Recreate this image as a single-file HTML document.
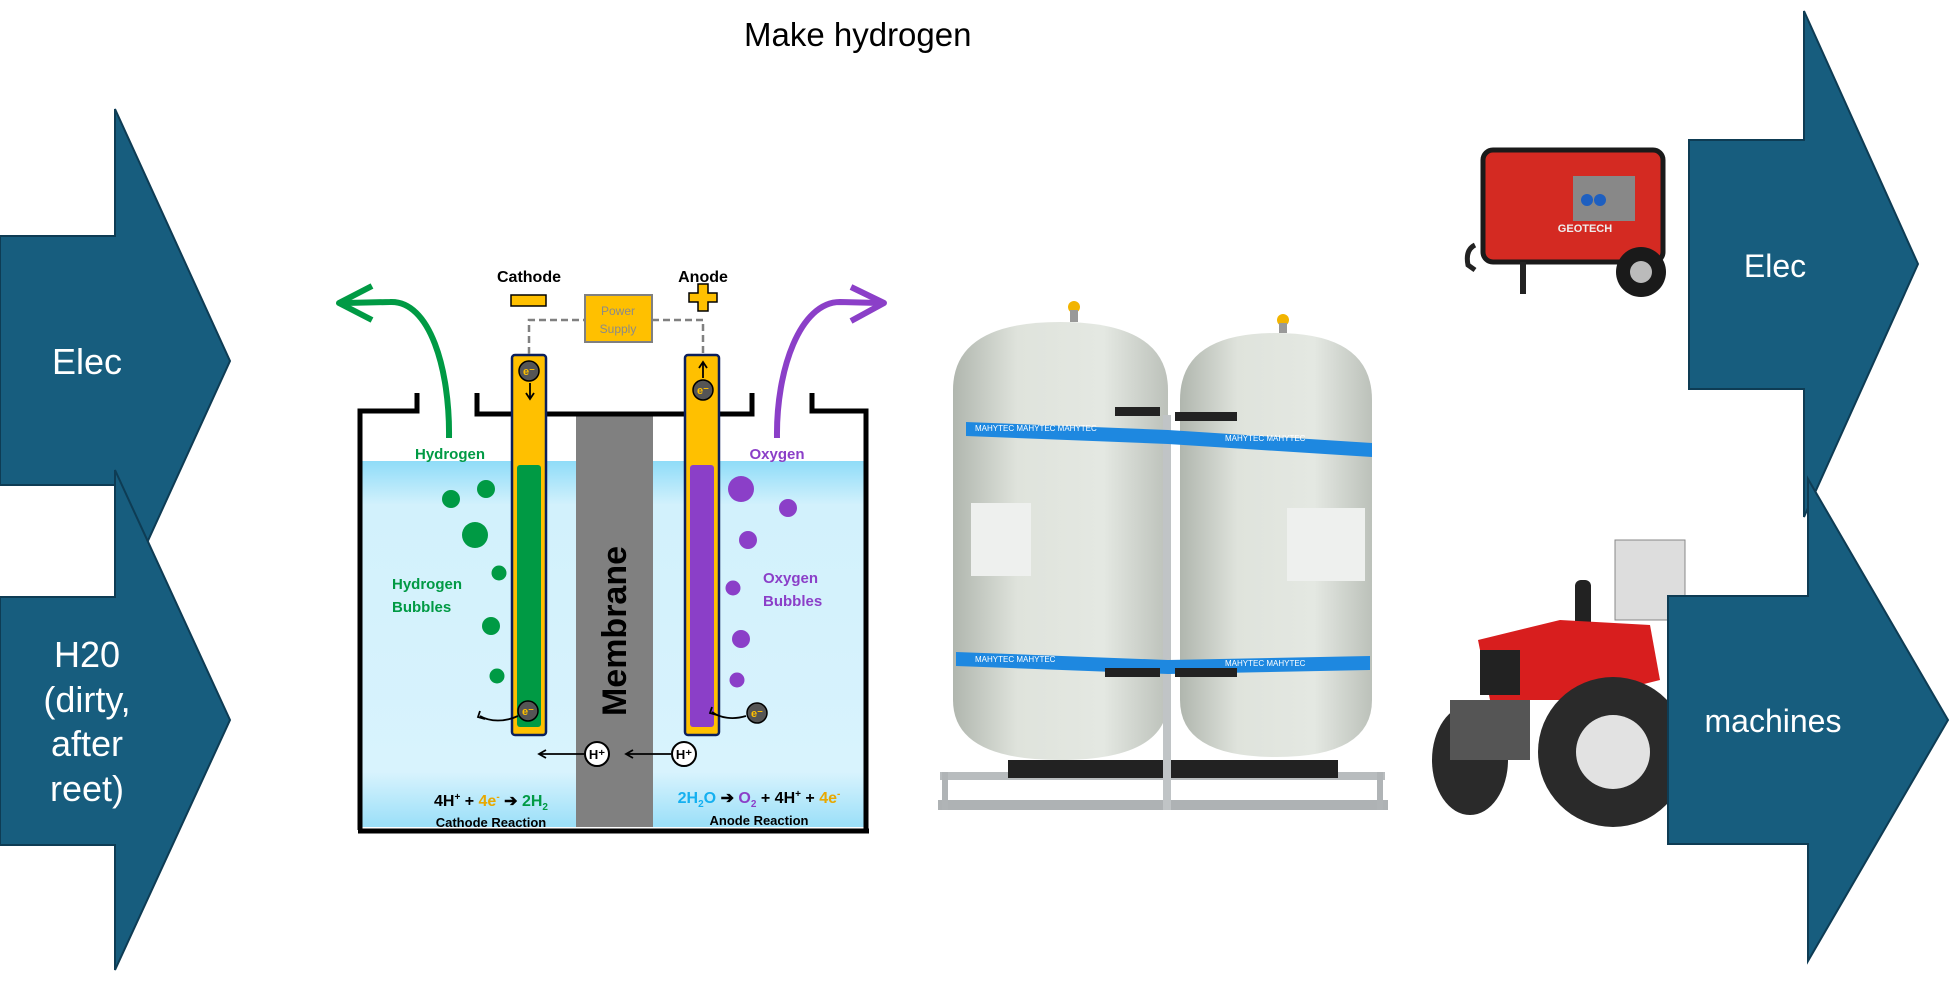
<!DOCTYPE html>
<html><head><meta charset="utf-8"><style>
html,body{margin:0;padding:0;background:#fff;}
svg{display:block;}
text{font-family:"Liberation Sans",sans-serif;}
</style></head><body>
<svg width="1950" height="991" viewBox="0 0 1950 991" xmlns="http://www.w3.org/2000/svg">
<defs>
<linearGradient id="water" x1="0" y1="0" x2="0" y2="1">
<stop offset="0" stop-color="#8fdcf8"/><stop offset="0.12" stop-color="#d2f1fc"/><stop offset="0.85" stop-color="#d8f3fd"/><stop offset="1" stop-color="#9adff8"/>
</linearGradient>
<linearGradient id="tank" x1="0" y1="0" x2="1" y2="0">
<stop offset="0" stop-color="#b0b6ae"/><stop offset="0.3" stop-color="#dfe3dc"/><stop offset="0.7" stop-color="#e4e8e2"/><stop offset="1" stop-color="#bcc1ba"/>
</linearGradient>
</defs>

<text x="744" y="46" font-size="33" fill="#000">Make hydrogen</text>

<polygon points="0,236 115,236 115,109 230,361 115,613 115,485 0,485" fill="#175d7e" stroke="#0e3c54" stroke-width="2"/>
<text x="87" y="374" font-size="36" fill="#fff" text-anchor="middle">Elec</text>
<polygon points="0,597 115,597 115,470 230,720 115,970 115,845 0,845" fill="#175d7e" stroke="#0e3c54" stroke-width="2"/>
<text font-size="36" fill="#fff" text-anchor="middle"><tspan x="87" y="667">H20</tspan><tspan x="87" y="712">(dirty,</tspan><tspan x="87" y="756">after</tspan><tspan x="87" y="801">reet)</tspan></text>

<rect x="361" y="461" width="505" height="366" fill="url(#water)"/>
<rect x="576" y="413" width="77" height="414" fill="#808080"/>
<path d="M360,830 L360,411 L417,411 L417,393" fill="none" stroke="#000" stroke-width="5"/>
<path d="M866,830 L866,411 L812,411 L812,393" fill="none" stroke="#000" stroke-width="5"/>
<line x1="358" y1="831" x2="869" y2="831" stroke="#000" stroke-width="5"/>
<path d="M477,393 L477,414 L684,414" fill="none" stroke="#000" stroke-width="5"/>
<path d="M720,414 L752,414 L752,393" fill="none" stroke="#000" stroke-width="5"/>
<text x="614" y="631" font-size="34" font-weight="bold" fill="#000" text-anchor="middle" transform="rotate(-90 614 631)" dy="12">Membrane</text>

<rect x="512" y="355" width="34" height="380" rx="3" fill="#ffc000" stroke="#0b1f5c" stroke-width="2.5"/>
<rect x="517" y="465" width="24" height="262" rx="3" fill="#009a44"/>
<rect x="685" y="355" width="34" height="380" rx="3" fill="#ffc000" stroke="#0b1f5c" stroke-width="2.5"/>
<rect x="690" y="465" width="24" height="262" rx="3" fill="#8b3fc8"/>

<text x="529" y="282" font-size="16" font-weight="bold" text-anchor="middle">Cathode</text>
<rect x="511" y="295" width="35" height="11" fill="#ffc000" stroke="#000" stroke-width="1.5"/>
<text x="703" y="282" font-size="16" font-weight="bold" text-anchor="middle">Anode</text>
<path d="M698,284 h10 v9 h9 v9 h-9 v9 h-10 v-9 h-9 v-9 h9 z" fill="#ffc000" stroke="#000" stroke-width="1.5"/>
<path d="M529,354 V320 H585 M652,320 H703 V354" fill="none" stroke="#808080" stroke-width="2.5" stroke-dasharray="7,4"/>
<rect x="585" y="295" width="67" height="47" fill="#ffc000" stroke="#808080" stroke-width="2"/>
<text x="618" y="315" font-size="12" fill="#8a8a8a" text-anchor="middle">Power</text>
<text x="618" y="333" font-size="12" fill="#8a8a8a" text-anchor="middle">Supply</text>

<path d="M449,438 C450,370 430,300 390,302 L345,303" fill="none" stroke="#009a44" stroke-width="6"/>
<path d="M372,286 L339,303 L372,320" fill="none" stroke="#009a44" stroke-width="6" stroke-linejoin="round"/>
<path d="M777,438 C776,370 800,302 840,302 L880,303" fill="none" stroke="#8b3fc8" stroke-width="6"/>
<path d="M851,287 L884,303 L851,321" fill="none" stroke="#8b3fc8" stroke-width="6" stroke-linejoin="round"/>

<text x="450" y="459" font-size="15" font-weight="bold" fill="#009a44" text-anchor="middle">Hydrogen</text>
<text x="777" y="459" font-size="15" font-weight="bold" fill="#8b3fc8" text-anchor="middle">Oxygen</text>
<text x="392" y="589" font-size="15" font-weight="bold" fill="#009a44">Hydrogen</text>
<text x="392" y="612" font-size="15" font-weight="bold" fill="#009a44">Bubbles</text>
<text x="763" y="583" font-size="15" font-weight="bold" fill="#8b3fc8">Oxygen</text>
<text x="763" y="606" font-size="15" font-weight="bold" fill="#8b3fc8">Bubbles</text>

<g fill="#009a44">
<circle cx="451" cy="499" r="9"/><circle cx="486" cy="489" r="9"/><circle cx="475" cy="535" r="13"/>
<circle cx="499" cy="573" r="7.5"/><circle cx="491" cy="626" r="9"/><circle cx="497" cy="676" r="7.5"/>
</g>
<g fill="#8b3fc8">
<circle cx="741" cy="489" r="13"/><circle cx="788" cy="508" r="9"/><circle cx="748" cy="540" r="9"/>
<circle cx="733" cy="588" r="7.5"/><circle cx="741" cy="639" r="9"/><circle cx="737" cy="680" r="7.5"/>
</g>

<g font-size="11" font-weight="bold" fill="#ffc000" text-anchor="middle">
<circle cx="529" cy="371" r="10" fill="#555" stroke="#000" stroke-width="1.5"/><text x="529" y="375">e⁻</text>
<circle cx="528" cy="711" r="10" fill="#555" stroke="#000" stroke-width="1.5"/><text x="528" y="715">e⁻</text>
<circle cx="703" cy="390" r="10" fill="#555" stroke="#000" stroke-width="1.5"/><text x="703" y="394">e⁻</text>
<circle cx="757" cy="713" r="10" fill="#555" stroke="#000" stroke-width="1.5"/><text x="757" y="717">e⁻</text>
</g>
<g fill="none" stroke="#000" stroke-width="1.8">
<path d="M530,383 V398 M526,393 L530,399 L534,393"/>
<path d="M703,378 V363 M699,368 L703,362 L707,368"/>
<path d="M518,716 C505,722 490,722 480,716 M480,711 L478,717 L485,719"/>
<path d="M746,716 C733,720 720,718 712,712 M712,707 L710,713 L717,715"/>
<path d="M584,754 H540 M546,750 L539,754 L546,758"/>
<path d="M671,754 H627 M633,750 L626,754 L633,758"/>
</g>
<circle cx="597" cy="754" r="12" fill="#fff" stroke="#000" stroke-width="2"/>
<text x="597" y="759" font-size="13" font-weight="bold" text-anchor="middle">H⁺</text>
<circle cx="684" cy="754" r="12" fill="#fff" stroke="#000" stroke-width="2"/>
<text x="684" y="759" font-size="13" font-weight="bold" text-anchor="middle">H⁺</text>

<text x="491" y="806" font-size="16" font-weight="bold" text-anchor="middle">4H<tspan font-size="10" dy="-6">+</tspan><tspan dy="6"> + </tspan><tspan fill="#e8a800">4e<tspan font-size="10" dy="-6">-</tspan></tspan><tspan dy="6"> ➔ </tspan><tspan fill="#009a44">2H<tspan font-size="10" dy="4">2</tspan></tspan></text>
<text x="491" y="827" font-size="13" font-weight="bold" text-anchor="middle">Cathode Reaction</text>
<text x="759" y="803" font-size="16" font-weight="bold" text-anchor="middle"><tspan fill="#14b0f0">2H<tspan font-size="10" dy="4">2</tspan><tspan dy="-4">O</tspan></tspan> ➔ <tspan fill="#8b3fc8">O<tspan font-size="10" dy="4">2</tspan></tspan><tspan dy="-4"> + 4H</tspan><tspan font-size="10" dy="-6">+</tspan><tspan dy="6"> + </tspan><tspan fill="#e8a800">4e<tspan font-size="10" dy="-6">-</tspan></tspan></text>
<text x="759" y="825" font-size="13" font-weight="bold" text-anchor="middle">Anode Reaction</text>

<g>
<rect x="940" y="772" width="445" height="8" fill="#b8bcbe"/>
<rect x="938" y="800" width="450" height="10" fill="#aeb2b4"/>
<rect x="942" y="772" width="6" height="38" fill="#b0b4b6"/>
<rect x="1377" y="772" width="6" height="38" fill="#b0b4b6"/>
<rect x="1008" y="760" width="330" height="18" fill="#222"/>
<path d="M953,390 Q953,322 1060,322 Q1168,322 1168,390 L1168,700 Q1168,760 1060,760 Q953,760 953,700 Z" fill="url(#tank)"/>
<path d="M1180,400 Q1180,333 1276,333 Q1372,333 1372,400 L1372,700 Q1372,757 1276,757 Q1180,757 1180,700 Z" fill="url(#tank)"/>
<circle cx="1074" cy="307" r="6" fill="#f2b400"/><rect x="1070" y="310" width="8" height="12" fill="#999"/>
<circle cx="1283" cy="320" r="6" fill="#f2b400"/><rect x="1279" y="323" width="8" height="10" fill="#999"/>
<rect x="1163" y="415" width="8" height="395" fill="#c0c4c6"/>
<polygon points="966,422 1168,430 1372,443 1372,457 1168,444 966,436" fill="#1e88e0"/>
<polygon points="956,652 1168,660 1370,656 1370,670 1168,674 956,666" fill="#1e88e0"/>
<rect x="1115" y="407" width="45" height="9" fill="#222"/><rect x="1175" y="412" width="62" height="9" fill="#222"/>
<rect x="1105" y="668" width="55" height="9" fill="#222"/><rect x="1175" y="668" width="62" height="9" fill="#222"/>
<g font-size="8" fill="#fff"><text x="975" y="431">MAHYTEC  MAHYTEC  MAHYTEC</text><text x="1225" y="441">MAHYTEC  MAHYTEC</text>
<text x="975" y="662">MAHYTEC  MAHYTEC</text><text x="1225" y="666">MAHYTEC  MAHYTEC</text></g>
<rect x="971" y="503" width="60" height="73" fill="#eef0ee"/>
<rect x="1287" y="508" width="78" height="73" fill="#eef0ee"/>
</g>

<g>
<path d="M1475,245 Q1465,250 1468,265 L1475,270" fill="none" stroke="#222" stroke-width="5"/>
<rect x="1483" y="150" width="180" height="112" rx="10" fill="#d42a22" stroke="#1a1a1a" stroke-width="5"/>
<rect x="1573" y="176" width="62" height="45" fill="#888"/>
<circle cx="1587" cy="200" r="6" fill="#1e5fc0"/><circle cx="1600" cy="200" r="6" fill="#1e5fc0"/>
<text x="1585" y="232" font-size="11" font-weight="bold" fill="#eee" text-anchor="middle">GEOTECH</text>
<circle cx="1641" cy="272" r="25" fill="#1a1a1a"/><circle cx="1641" cy="272" r="11" fill="#bbb"/>
<rect x="1520" y="262" width="6" height="32" fill="#222"/>
</g>

<g>
<rect x="1615" y="540" width="70" height="80" fill="#ddd" stroke="#888"/>
<rect x="1575" y="580" width="16" height="55" rx="6" fill="#222"/>
<path d="M1478,640 L1560,620 L1650,625 L1660,680 L1580,700 L1490,700 Z" fill="#d81e1e"/>
<rect x="1480" y="650" width="40" height="45" fill="#222"/>
<ellipse cx="1470" cy="760" rx="38" ry="55" fill="#2a2a2a"/>
<circle cx="1613" cy="752" r="75" fill="#2a2a2a"/>
<circle cx="1613" cy="752" r="37" fill="#e2e2e2"/>
<rect x="1450" y="700" width="80" height="60" fill="#555"/>
</g>

<polygon points="1689,140 1804,140 1804,11 1918,264 1804,517 1804,389 1689,389" fill="#175d7e" stroke="#0e3c54" stroke-width="2"/>
<text x="1775" y="277" font-size="32" fill="#fff" text-anchor="middle">Elec</text>
<polygon points="1668,596 1808,596 1808,479 1948,720 1808,961 1808,844 1668,844" fill="#175d7e" stroke="#0e3c54" stroke-width="2"/>
<text x="1773" y="732" font-size="32" fill="#fff" text-anchor="middle">machines</text>
</svg>
</body></html>
